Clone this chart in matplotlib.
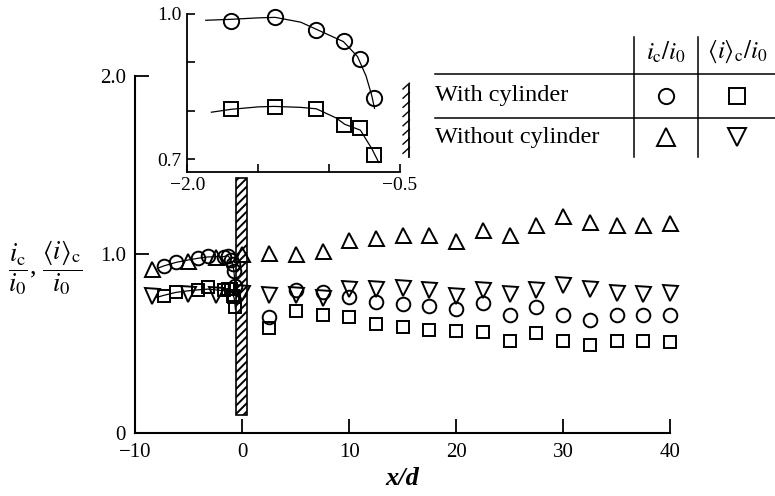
import matplotlib.pyplot as plt
from matplotlib.patches import Rectangle

plt.rcParams['font.family'] = ['Liberation Serif', 'DejaVu Serif']
plt.rcParams['mathtext.fontset'] = 'stix'
plt.rcParams['hatch.linewidth'] = 1.4

# stations downstream of the cylinder position, x/d
x_down = [2.5, 5, 7.5, 10, 12.5, 15, 17.5, 20, 22.5, 25, 27.5, 30, 32.5, 35, 37.5, 40]
# with cylinder: i_c/i_0 (circles), <i>_c/i_0 (squares)
ic_with_down = [0.652, 0.801, 0.792, 0.764, 0.736, 0.723, 0.714, 0.697, 0.731,
                0.663, 0.706, 0.661, 0.633, 0.661, 0.661, 0.661]
iavg_with_down = [0.587, 0.682, 0.661, 0.652, 0.608, 0.592, 0.579, 0.571, 0.568,
                  0.517, 0.562, 0.517, 0.493, 0.517, 0.517, 0.511]
# without cylinder: i_c/i_0 (up triangles), <i>_c/i_0 (down triangles)
ic_without_down = [1.007, 1.001, 1.018, 1.083, 1.091, 1.109, 1.109, 1.074, 1.137,
                   1.109, 1.165, 1.216, 1.184, 1.165, 1.165, 1.178]
iavg_without_down = [0.773, 0.773, 0.756, 0.808, 0.804, 0.813, 0.801, 0.768, 0.801,
                     0.779, 0.801, 0.829, 0.805, 0.786, 0.779, 0.786]

# upstream stations, with cylinder
x_up_with = [-7.3, -6.2, -4.15, -3.25, -1.69, -1.385, -1.09, -0.897, -0.782, -0.685]
ic_with_up = [0.936, 0.956, 0.979, 0.992, 0.986, 0.994, 0.967, 0.945, 0.906, 0.826]
iavg_with_up = [0.768, 0.792, 0.801, 0.816, 0.803, 0.808, 0.804, 0.770, 0.764, 0.708]

# upstream stations, without cylinder
x_up_without = [-8.5, -5.1, -2.5, 0.0]
ic_without_up = [0.917, 0.962, 0.985, 1.004]
iavg_without_up = [0.768, 0.779, 0.772, 0.786]

# smooth curves drawn through the upstream data
circ_curve_x = [-7.8, -7.3, -6.2, -5.0, -4.15, -3.25, -2.5, -1.87, -1.69, -1.5, -1.38,
                -1.2, -1.05, -0.9, -0.8, -0.74, -0.70, -0.68]
circ_curve_y = [0.926, 0.937, 0.956, 0.970, 0.979, 0.986, 0.988, 0.987, 0.989, 0.992,
                0.993, 0.983, 0.963, 0.943, 0.912, 0.872, 0.832, 0.805]
sq_curve_x = [-8.0, -7.3, -6.2, -5.0, -4.15, -3.25, -2.5, -1.83, -1.69, -1.5, -1.39,
              -1.2, -1.09, -0.95, -0.89, -0.78, -0.70, -0.65]
sq_curve_y = [0.760, 0.772, 0.788, 0.797, 0.802, 0.806, 0.802, 0.797, 0.803, 0.808,
              0.809, 0.807, 0.804, 0.785, 0.772, 0.760, 0.722, 0.693]
inset_curve_start = 7

mk = dict(ls='none', mfc='none', mec='black', mew=1.4, zorder=3, clip_on=False)

fig = plt.figure(figsize=(7.75, 4.96), dpi=100)

# main plot
ax = fig.add_axes([0.1748, 0.127, 0.6897, 0.7198])
ax.set_facecolor('none')
ax.add_patch(Rectangle((-0.56, 0.1), 1.0, 1.33, facecolor='white', edgecolor='black',
                       hatch='////', lw=1.2, zorder=1))
ax.plot(circ_curve_x, circ_curve_y, color='black', lw=0.9, zorder=2)
ax.plot(sq_curve_x, sq_curve_y, color='black', lw=0.9, zorder=2)
ax.plot(x_down + x_up_with, ic_with_down + ic_with_up, marker='o', ms=9.8, **mk)
ax.plot(x_down + x_up_with, iavg_with_down + iavg_with_up, marker='s', ms=8.8, **mk)
ax.plot(x_down + x_up_without, ic_without_down + ic_without_up, marker='^', ms=10.8, **mk)
ax.plot(x_down + x_up_without, iavg_without_down + iavg_without_up, marker='v', ms=10.8, **mk)

ax.set_xlim(-10, 40)
ax.set_ylim(0, 2.0)
ax.spines['top'].set_visible(False)
ax.spines['right'].set_visible(False)
ax.spines['left'].set_linewidth(1.5)
ax.spines['bottom'].set_linewidth(1.5)
ax.set_xticks([-10, 0, 10, 20, 30, 40])
ax.set_xticklabels(['\u221210', '0', '10', '20', '30', '40'])
ax.set_yticks([0, 1.0, 2.0])
ax.set_yticklabels(['0', '1.0', '2.0'])
ax.tick_params(direction='in', length=10, width=1.3, labelsize=15, pad=7)
ax.set_xlabel('x/d', fontsize=19, fontstyle='italic', fontweight='bold', labelpad=4)

# inset: close-up of the approach to the cylinder
ins = fig.add_axes([0.2417, 0.6538, 0.2745, 0.318])
ins.set_facecolor('none')
ins.plot(circ_curve_x[inset_curve_start:], circ_curve_y[inset_curve_start:],
         color='black', lw=0.9)
ins.plot(sq_curve_x[inset_curve_start:], sq_curve_y[inset_curve_start:],
         color='black', lw=0.9)
ins.plot(x_up_with[4:], ic_with_up[4:], marker='o', ms=11, **mk)
ins.plot(x_up_with[4:], iavg_with_up[4:], marker='s', ms=9.6, **mk)
ins.set_xlim(-2.0, -0.5)
ins.set_ylim(0.674, 1.0)
ins.spines['top'].set_visible(False)
ins.spines['right'].set_visible(False)
ins.spines['left'].set_linewidth(1.3)
ins.spines['bottom'].set_linewidth(1.3)
ins.set_xticks([-2.0, -1.5, -1.0, -0.5])
ins.set_xticklabels(['\u22122.0', '', '', '\u22120.5'])
ins.set_yticks([0.7, 0.8, 0.9, 1.0])
ins.set_yticklabels(['0.7', '', '', '1.0'])
ins.tick_params(direction='in', length=6, width=1.2, labelsize=14, pad=4)

# cylinder surface in the inset
wall_x = -0.434
ins.plot([wall_x, wall_x], [0.704, 0.853], color='black', lw=1.3, clip_on=False)
for k in range(8):
    yk = 0.712 + k * 0.019
    ins.plot([wall_x, wall_x - 0.045], [yk + 0.012, yk], color='black', lw=1.0,
             clip_on=False)

# overlay in pixel units for the symbol table and the y label
ov = fig.add_axes([0, 0, 1, 1])
ov.set_xlim(0, 775)
ov.set_ylim(496, 0)
ov.axis('off')

for yy in (74, 118):
    ov.plot([435, 775], [yy, yy], color='black', lw=1.1)
for xx in (634, 698):
    ov.plot([xx, xx], [37, 157], color='black', lw=1.1)
ov.text(666, 52, r'$i_\mathrm{c}/i_0$', ha='center', va='center', fontsize=18)
ov.text(737, 52, r'$\langle i\rangle_\mathrm{c}/i_0$', ha='center', va='center',
        fontsize=18)
ov.text(435, 96, 'With cylinder', ha='left', va='center', fontsize=17.5)
ov.text(435, 137, 'Without cylinder', ha='left', va='center', fontsize=17.5)
ov.plot([666], [96], marker='o', ms=11, **mk)
ov.plot([737], [96], marker='s', ms=11, **mk)
ov.plot([666], [137], marker='^', ms=13, **mk)
ov.plot([737], [137], marker='v', ms=13, **mk)

ov.text(45, 268, r'$\dfrac{i_\mathrm{c}}{i_0}$, $\dfrac{\langle i\rangle_\mathrm{c}}{i_0}$',
        ha='center', va='center', fontsize=19)

fig.savefig('out.png', dpi=100)
